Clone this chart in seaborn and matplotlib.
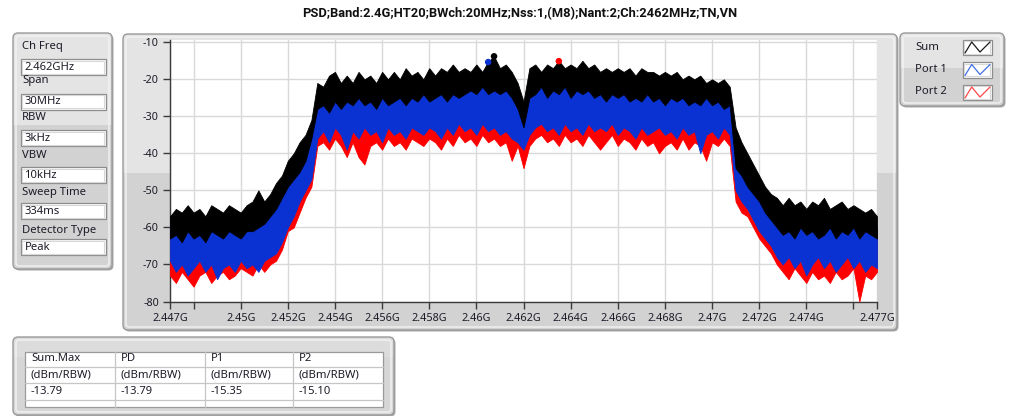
import numpy as np
import pandas as pd
import matplotlib
matplotlib.use("Agg")
import matplotlib.pyplot as plt
from matplotlib.patches import FancyBboxPatch, Rectangle
from matplotlib.lines import Line2D
import seaborn as sns

# ---------------------------------------------------------------- data
# sweep: 2.447 GHz .. 2.477 GHz, 0.25 MHz bins (121 points)
f_start_ghz, f_stop_ghz, n_bins = 2.447, 2.477, 121

# per-bin upper / lower extent of each trace, dBm/RBW
sum_hi = [-57, -55, -56, -54, -56, -55, -57, -54, -55, -56, -54, -55, -56, -54,
          -53, -50, -53, -51, -48, -46, -42, -40, -37, -35, -31,
          -21, -22, -19, -18, -21, -19, -21, -18, -20, -19, -21, -18, -20, -18, -20, -17, -19, -18,
          -20, -17, -19, -17, -18, -16, -18, -17, -18, -16, -18, -15.2, -13.79, -17, -16, -18, -21, -26, -17,
          -16, -18, -16, -17, -15, -17, -16, -17, -15, -17, -16, -18, -17, -18, -17, -18, -17,
          -19, -17, -18, -18, -19, -18, -19, -18, -20, -19, -20, -19, -21, -20, -21, -20, -22,
          -33, -37, -40, -43, -46, -49, -51, -52,
          -54, -52, -54, -53, -55, -53, -54, -52, -55, -54, -53, -55, -54, -55, -56, -55, -57]
sum_lo = [-63, -62, -64, -61, -63, -62, -64, -61, -62, -63, -61, -62, -63, -61,
          -61, -60, -59, -57, -55, -52, -49, -47, -45, -42, -36,
          -28, -27, -29, -26, -28, -26, -27, -25, -27, -26, -28, -25, -27, -26, -25, -27, -25, -26,
          -24, -26, -25, -24, -26, -24, -25, -24, -23, -24, -22, -24, -23, -24, -23, -25, -28, -33, -25,
          -24, -22, -25, -23, -24, -22, -25, -23, -24, -23, -25, -24, -26, -24, -25, -24, -26,
          -25, -26, -24, -26, -25, -27, -25, -26, -25, -27, -26, -27, -25, -27, -26, -28, -27,
          -44, -46, -49, -51, -53, -56, -58, -60,
          -62, -61, -63, -60, -62, -61, -63, -62, -60, -63, -61, -62, -60, -63, -61, -62, -63]
p1_hi = [-59, -58, -60, -57, -59, -58, -60, -57, -58, -59, -57, -58, -59, -57,
         -56, -54, -55, -54, -51, -49, -45, -43, -40, -38, -33,
         -24, -25, -22, -21, -24, -22, -24, -21, -23, -22, -24, -21, -23, -21, -23, -20, -22, -21,
         -23, -20, -22, -20, -21, -19, -21, -20, -21, -19, -21, -15.35, -17, -20, -19, -21, -24, -29, -20,
         -19, -21, -19, -20, -18, -20, -19, -20, -18, -20, -19, -21, -20, -21, -20, -21, -20,
         -22, -20, -21, -21, -22, -21, -22, -21, -23, -22, -23, -22, -24, -23, -24, -23, -25,
         -36, -40, -43, -46, -49, -52, -54, -55,
         -57, -55, -57, -56, -58, -56, -57, -55, -58, -57, -56, -58, -57, -58, -59, -58, -60]
p1_lo = [-69, -72, -70, -73, -71, -69, -72, -70, -74, -71, -70, -72, -69, -71,
         -70, -72, -69, -68, -67, -64, -60, -57, -53, -50, -47,
         -36, -34, -37, -33, -35, -39, -34, -36, -33, -35, -34, -37, -33, -35, -34, -36, -33, -34,
         -35, -33, -34, -36, -33, -35, -32, -34, -33, -35, -32, -34, -33, -35, -34, -36, -37, -39, -35,
         -33, -32, -34, -33, -35, -32, -34, -33, -35, -32, -34, -33, -34, -32, -35, -33, -34,
         -36, -33, -35, -34, -33, -35, -34, -36, -33, -35, -34, -40, -35, -34, -36, -33, -35,
         -50, -53, -55, -58, -61, -63, -65, -68,
         -70, -68, -71, -69, -73, -70, -68, -71, -69, -72, -70, -68, -71, -69, -72, -70, -71]
p2_hi = [-60, -59, -61, -58, -60, -59, -61, -58, -59, -60, -58, -59, -60, -58,
         -57, -55, -56, -55, -52, -50, -46, -44, -41, -39, -34,
         -25, -26, -23, -22, -25, -23, -25, -22, -24, -23, -25, -22, -24, -22, -24, -21, -23, -22,
         -24, -21, -23, -21, -22, -20, -22, -21, -22, -20, -22, -19, -18, -21, -20, -22, -25, -30, -21,
         -20, -22, -20, -21, -15.10, -21, -20, -21, -19, -21, -20, -22, -21, -22, -21, -22, -21,
         -23, -21, -22, -22, -23, -22, -23, -22, -24, -23, -24, -23, -25, -24, -25, -24, -26,
         -37, -41, -44, -47, -50, -53, -55, -56,
         -58, -56, -58, -57, -59, -57, -58, -56, -59, -58, -57, -59, -58, -59, -60, -59, -61]
p2_lo = [-73, -75, -72, -74, -76, -73, -72, -75, -73, -72, -74, -73, -71, -72,
         -73, -70, -72, -70, -69, -66, -61, -60, -56, -52, -49,
         -38, -37, -39, -36, -38, -41, -37, -41, -43, -38, -37, -39, -36, -38, -37, -39, -36, -37,
         -38, -36, -37, -39, -36, -38, -35, -37, -36, -38, -35, -37, -36, -38, -37, -42, -38, -44, -38,
         -36, -35, -37, -36, -38, -35, -37, -36, -38, -35, -37, -39, -37, -35, -38, -36, -37,
         -39, -36, -38, -37, -40, -38, -37, -39, -36, -39, -37, -38, -42, -37, -38, -36, -38,
         -53, -56, -57, -60, -63, -65, -67, -70,
         -72, -74, -71, -73, -75, -72, -74, -73, -75, -72, -74, -73, -71, -80, -73, -74, -72]

series_names = ["Sum", "Port 1", "Port 2"]
series_colors = ["#000000", "#0a32d2", "#ff0000"]
legend_colors = ["#1a1a1a", "#3f6fe6", "#ff4646"]

x_ticks = [2.447, 2.448, 2.450, 2.452, 2.454, 2.456, 2.458, 2.460, 2.462,
           2.464, 2.466, 2.468, 2.470, 2.472, 2.474, 2.476, 2.477]
x_tick_labels = ["2.447G", "", "2.45G", "2.452G", "2.454G", "2.456G", "2.458G", "2.46G",
                 "2.462G", "2.464G", "2.466G", "2.468G", "2.47G", "2.472G", "2.474G", "", "2.477G"]
y_ticks = [-80, -70, -60, -50, -40, -30, -20, -10]

title = "PSD;Band:2.4G;HT20;BWch:20MHz;Nss:1,(M8);Nant:2;Ch:2462MHz;TN,VN"
setup_labels = ["Ch Freq", "Span", "RBW", "VBW", "Sweep Time", "Detector Type"]
setup_values = ["2.462GHz", "30MHz", "3kHz", "10kHz", "334ms", "Peak"]
table_header = ["Sum.Max", "PD", "P1", "P2"]
table_unit = "(dBm/RBW)"

# ---------------------------------------------------------------- style
sns.set_theme(style="white")
plt.rcParams["font.family"] = ["Noto Sans", "DejaVu Sans"]
TXT = "#1c1c28"

W, H = 1018, 416
fig = plt.figure(figsize=(W / 100, H / 100), dpi=100)
fig.patch.set_facecolor("white")

# pixel-space canvas for the front-panel frames
bg = fig.add_axes([0, 0, 1, 1])
bg.set_xlim(0, W)
bg.set_ylim(H, 0)
bg.axis("off")


def panel(x, y, w, h, split, top="#e4e4e4", bottom="#d2d2d2"):
    bg.add_patch(FancyBboxPatch((x + 1.5, y + 1.5), w, h,
                                boxstyle="round,pad=0,rounding_size=5",
                                fc="#a8a8a8", ec="none", zorder=1))
    body = FancyBboxPatch((x, y), w, h, boxstyle="round,pad=0,rounding_size=5",
                          fc=top, ec="none", zorder=2)
    bg.add_patch(body)
    low = Rectangle((x, y + split), w, h - split, fc=bottom, ec="none", zorder=2)
    low.set_clip_path(body)
    bg.add_patch(low)
    bg.add_patch(FancyBboxPatch((x + 3, y + 3), w - 6, h - 6,
                                boxstyle="round,pad=0,rounding_size=3",
                                fc="none", ec="#f3f3f3", lw=1, zorder=3))
    bg.add_patch(FancyBboxPatch((x, y), w, h, boxstyle="round,pad=0,rounding_size=5",
                                fc="none", ec="#9a9a9a", lw=1, zorder=3))


def text_box(x, y, w, h):
    bg.add_patch(Rectangle((x, y), w, h, fc="white", ec="#8c8c8c", lw=0.9, zorder=4))
    bg.add_patch(Rectangle((x + 1.5, y + 1.5), w - 3, h - 3, fc="none", ec="#d8d8d8",
                           lw=0.8, zorder=4))


# main graph frame
panel(123, 34, 774, 296, 139)
# setup panel
panel(13, 33, 99, 236, 92)
for lab, val, ly, by in zip(setup_labels, setup_values,
                            [46.5, 80.5, 117.5, 155, 192, 230],
                            [59, 93.5, 130, 167, 203, 239]):
    bg.text(22, ly, lab, ha="left", va="center", fontsize=8.1, color=TXT, zorder=5)
    text_box(21, by, 85, 16)
    bg.text(24.5, by + 8.3, val, ha="left", va="center", fontsize=8.1, color=TXT, zorder=5)

# legend panel
panel(900, 33, 104, 73, 35)
for name, col, ty in zip(series_names, legend_colors, [39.5, 62, 84.5]):
    bg.text(915, ty + 7.5, name, ha="left", va="center", fontsize=8.1, color=TXT, zorder=5)
    text_box(963, ty, 29, 15.5)
    bg.add_line(Line2D([965, 971.7, 980, 990], [ty + 13.5, ty + 2.5, ty + 12.5, ty + 2.5],
                       color=col, lw=0.9, zorder=6))

# result table panel
panel(13, 337, 381, 78, 20, top="#dcdcdc", bottom="#d6d6d6")
tx0, tx1, ty0, ty1 = 25, 383, 351.5, 407
bg.add_patch(Rectangle((tx0, ty0), tx1 - tx0, ty1 - ty0, fc="white", ec="#9a9a9a",
                       lw=0.9, zorder=4))
for cx in [115, 205, 293.5]:
    bg.add_line(Line2D([cx, cx], [ty0, ty1], color="#c6c6c6", lw=0.9, zorder=5))
for ry in [366.5, 383, 399.5]:
    bg.add_line(Line2D([tx0, tx1], [ry, ry], color="#c6c6c6", lw=0.9, zorder=5))

# ---------------------------------------------------------------- spectrum
freq = np.linspace(f_start_ghz, f_stop_ghz, n_bins)
sum_hi_a, sum_lo_a = np.array(sum_hi), np.array(sum_lo)
p1_hi_a, p1_lo_a = np.array(p1_hi), np.array(p1_lo)
p2_hi_a, p2_lo_a = np.array(p2_hi), np.array(p2_lo)

ax = fig.add_axes([170 / W, 1 - 301.5 / H, (877 - 170) / W, (301.5 - 39.5) / H])
ax.set_facecolor("white")

for lo, hi, col in [(p2_lo_a, p2_hi_a, series_colors[2]),
                    (p1_lo_a, p1_hi_a, series_colors[1]),
                    (sum_lo_a, sum_hi_a, series_colors[0])]:
    ax.fill_between(freq, lo, hi, color=col, lw=0.6, edgecolor=col, zorder=3)

# maximum markers for each trace
peaks = pd.DataFrame({
    "freq": [freq[np.argmax(sum_hi_a)], freq[np.argmax(p1_hi_a)], freq[np.argmax(p2_hi_a)]],
    "level": [sum_hi_a.max(), p1_hi_a.max(), p2_hi_a.max()],
    "trace": series_names,
})
sns.scatterplot(data=peaks, x="freq", y="level", hue="trace",
                palette=dict(zip(series_names, series_colors)),
                s=22, linewidth=0, legend=False, ax=ax, zorder=6)

ax.set_xlim(f_start_ghz, f_stop_ghz)
ax.set_ylim(-80, -9.25)
ax.set_xticks(x_ticks)
ax.set_xticklabels(x_tick_labels)
ax.set_yticks(y_ticks)
ax.set_yticklabels([str(v) for v in y_ticks])
ax.set_xlabel("")
ax.set_ylabel("")
ax.grid(True, color="#d9d9d9", lw=1)
ax.set_axisbelow(True)
for s in ["top", "right"]:
    ax.spines[s].set_visible(False)
for s in ["left", "bottom"]:
    ax.spines[s].set_color("#3a3a3a")
    ax.spines[s].set_linewidth(1)
ax.tick_params(axis="both", which="major", bottom=True, left=True, direction="out",
               length=5, width=1, color="#3a3a3a", labelsize=7.8, labelcolor=TXT, pad=3)

# ---------------------------------------------------------------- texts
fig.text(520 / W, 1 - 13.5 / H, title, ha="center", va="center", fontsize=9.3,
         fontweight="bold", color="#101010", family=["Roboto", "DejaVu Sans"])

table_values = ["%.2f" % sum_hi_a.max(), "%.2f" % sum_hi_a.max(),
                "%.2f" % p1_hi_a.max(), "%.2f" % p2_hi_a.max()]
for cx, head, val in zip([31, 120.5, 210.5, 299], table_header, table_values):
    bg.text(cx, 358.8, head, ha="left", va="center", fontsize=8.1, color=TXT, zorder=6)
    bg.text(cx, 375, table_unit, ha="left", va="center", fontsize=8.1, color=TXT, zorder=6)
    bg.text(cx, 391.5, val, ha="left", va="center", fontsize=8.1, color=TXT, zorder=6)

fig.savefig("out.png", dpi=100, facecolor="white")
